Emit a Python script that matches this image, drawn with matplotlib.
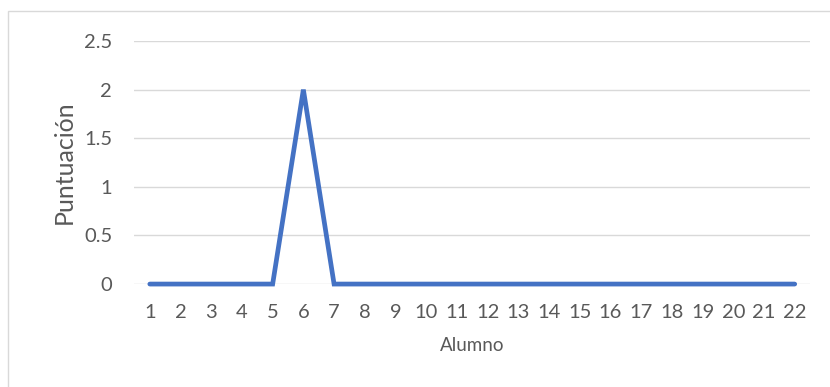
import matplotlib.pyplot as plt
from matplotlib.patches import Rectangle

# Puntuación por alumno
alumnos = [str(i) for i in range(1, 23)]
puntuacion = [0, 0, 0, 0, 0, 2, 0, 0, 0, 0, 0, 0, 0, 0, 0, 0, 0, 0, 0, 0, 0, 0]
y_ticks = [0, 0.5, 1, 1.5, 2, 2.5]
y_tick_labels = ['0', '0.5', '1', '1.5', '2', '2.5']

GRIS_TEXTO = '#595959'
GRIS_REJILLA = '#d9d9d9'
AZUL = '#4472c4'

plt.rcParams['font.family'] = ['Lato', 'DejaVu Sans']

fig = plt.figure(figsize=(8.3, 3.87), dpi=100)
ax = fig.add_axes([0.162, 0.266, 0.814, 0.628])

# marco del gráfico (solo se ven los bordes superior e izquierdo)
fig.patches.append(Rectangle((8 / 830, -0.1), 1.2, 1.1 - 11 / 387, transform=fig.transFigure,
                             fill=False, edgecolor=GRIS_REJILLA, linewidth=1))

x = list(range(1, len(alumnos) + 1))
ax.plot(x, puntuacion, color=AZUL, linewidth=3.4, solid_capstyle='round',
        solid_joinstyle='miter', clip_on=False, zorder=3)

ax.set_xlim(0.5, len(alumnos) + 0.5)
ax.set_ylim(0, 2.5)
ax.set_xticks(x)
ax.set_xticklabels(alumnos)
ax.set_yticks(y_ticks)
ax.set_yticklabels(y_tick_labels)
ax.grid(axis='y', color=GRIS_REJILLA, linewidth=1)
ax.set_axisbelow(True)
for s in ax.spines.values():
    s.set_visible(False)
ax.tick_params(length=0, labelsize=14.5, colors=GRIS_TEXTO)
ax.tick_params(axis='x', pad=14)
ax.tick_params(axis='y', pad=16)

ax.set_xlabel('Alumno', fontsize=13.5, color=GRIS_TEXTO, labelpad=12)
ax.set_ylabel('Puntuación', fontsize=18, color=GRIS_TEXTO, labelpad=6)

fig.savefig('out.png', dpi=100)
